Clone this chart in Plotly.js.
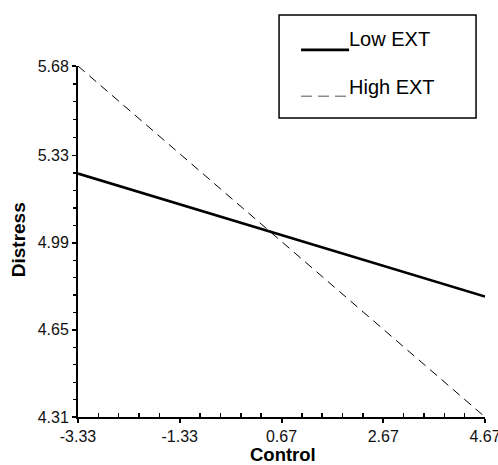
<!DOCTYPE html>
<html>
<head>
<meta charset="utf-8">
<script src="https://cdn.plot.ly/plotly-3.0.1.min.js"></script>
<style>html,body{margin:0;padding:0;background:#fff;}#chart{width:498px;height:465px;}</style>
</head>
<body>
<div id="chart"></div>
<script>
var seriesNames = ["Low EXT", "High EXT"];
var xAxisTitle = "Control";
var yAxisTitle = "Distress";
var controlX = [-3.33, 4.67];
var lowExtY = [5.26, 4.78];
var highExtY = [5.68, 4.31];
var xTicks = [-3.33, -1.33, 0.67, 2.67, 4.67];
var xTickLabels = ["-3.33", "-1.33", "0.67", "2.67", "4.67"];
var yTicks = [4.31, 4.65, 4.99, 5.33, 5.68];
var yTickLabels = ["4.31", "4.65", "4.99", "5.33", "5.68"];

var FONT = "Liberation Sans, Arial, Helvetica, sans-serif";

function subdivide(ticks, n) {
  var out = [];
  for (var i = 0; i < ticks.length - 1; i++) {
    for (var k = 1; k < n; k++) out.push(ticks[i] + (ticks[i + 1] - ticks[i]) * k / n);
  }
  return out;
}

var traces = [
  {x: controlX, y: lowExtY, name: seriesNames[0], mode: "lines",
   line: {color: "#000", width: 2.6}, showlegend: false},
  {x: controlX, y: highExtY, name: seriesNames[1], mode: "lines",
   line: {color: "#000", width: 1, dash: "9px,6px"}, showlegend: false}
];

var layout = {
  width: 498, height: 465,
  margin: {l: 78, r: 13, t: 66, b: 48},
  paper_bgcolor: "#fff", plot_bgcolor: "#fff",
  font: {family: FONT, color: "#000", size: 16},
  xaxis: {
    range: [-3.33, 4.67], showgrid: false, zeroline: false,
    showline: true, linecolor: "#000", linewidth: 2,
    ticks: "outside", ticklen: 4, tickwidth: 2, tickcolor: "#000",
    tickvals: xTicks, ticktext: xTickLabels, ticklabeloverflow: "allow",
    tickfont: {family: FONT, size: 16, color: "#111"},
    minor: {tickmode: "array", tickvals: subdivide(xTicks, 5), ticks: "inside", ticklen: 4, tickwidth: 1.5, tickcolor: "#000", showgrid: false},
    automargin: false
  },
  yaxis: {
    range: [4.31, 5.68], showgrid: false, zeroline: false,
    showline: true, linecolor: "#000", linewidth: 2,
    ticks: "outside", ticklen: 4, tickwidth: 1.5, tickcolor: "#000",
    tickvals: yTicks, ticktext: yTickLabels, ticklabeloverflow: "allow",
    tickfont: {family: FONT, size: 16, color: "#111"},
    minor: {tickmode: "array", tickvals: subdivide(yTicks, 5), ticks: "outside", ticklen: 3, tickwidth: 1.2, tickcolor: "#000", showgrid: false},
    automargin: false
  },
  shapes: [
    {type: "rect", xref: "paper", yref: "paper", x0: 0.494, x1: 0.978, y0: 0.852, y1: 1.145,
     line: {color: "#000", width: 1.5}, fillcolor: "rgba(0,0,0,0)"},
    {type: "line", xref: "paper", yref: "paper", x0: 0.548, x1: 0.666, y0: 1.046, y1: 1.046,
     line: {color: "#000", width: 2.6}},
    {type: "line", xref: "paper", yref: "paper", x0: 0.548, x1: 0.663, y0: 0.914, y1: 0.914,
     line: {color: "#555", width: 1, dash: "11px,6px"}}
  ],
  annotations: [
    {xref: "paper", yref: "paper", x: 0.662, y: 1.076, xanchor: "left", yanchor: "middle",
     text: seriesNames[0], showarrow: false, font: {family: FONT, size: 20, color: "#000"}},
    {xref: "paper", yref: "paper", x: 0.662, y: 0.940, xanchor: "left", yanchor: "middle",
     text: seriesNames[1], showarrow: false, font: {family: FONT, size: 20, color: "#000"}},
    {xref: "paper", yref: "paper", x: 0.503, y: -0.107, xanchor: "center", yanchor: "middle", borderpad: 0,
     text: "<b>" + xAxisTitle + "</b>", showarrow: false, font: {family: FONT, size: 18.5, color: "#000"}},
    {xref: "paper", yref: "paper", x: -0.147, y: 0.504, xanchor: "center", yanchor: "middle", textangle: -90,
     text: "<b>" + yAxisTitle + "</b>", showarrow: false, font: {family: FONT, size: 19, color: "#000"}}
  ]
};

Plotly.newPlot("chart", traces, layout, {displayModeBar: false, staticPlot: true});
</script>
</body>
</html>
